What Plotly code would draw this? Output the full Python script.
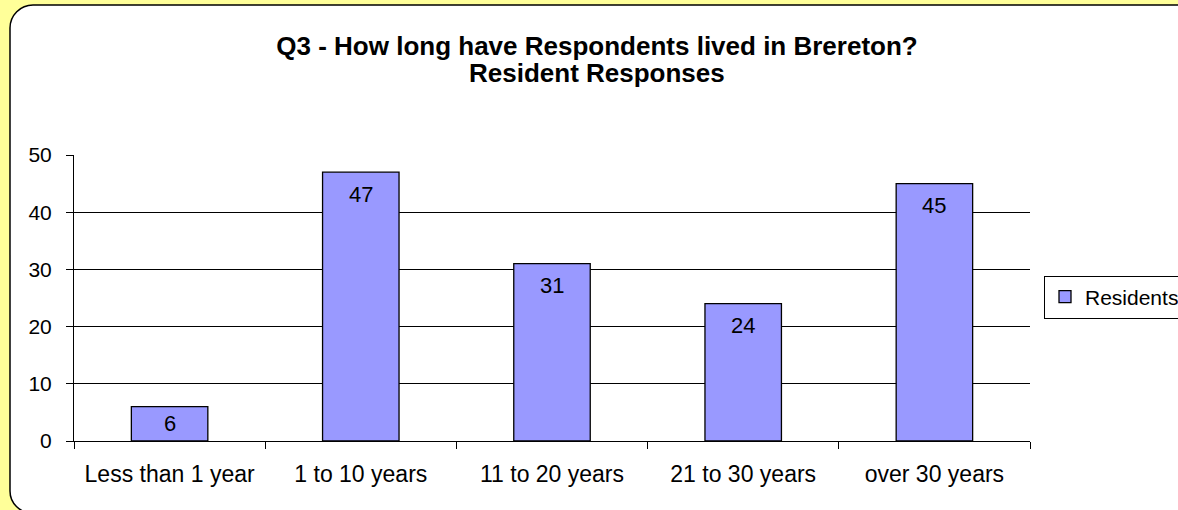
import plotly.graph_objects as go

categories = ["Less than 1 year", "1 to 10 years", "11 to 20 years", "21 to 30 years", "over 30 years"]
residents = [6, 47, 31, 24, 45]
series_name = "Residents"
title_line1 = "Q3 - How long have Respondents lived in Brereton?"
title_line2 = "Resident Responses"
y_ticks = [0, 10, 20, 30, 40, 50]

W, H = 1178, 510
L, R, T, B = 74, 148, 155, 69
PW, PH = W - L - R, H - T - B
FONT = "Liberation Sans, Arial, sans-serif"


def px(x):
    return (x - L) / PW


def py(y):
    return (H - B - y) / PH


fig = go.Figure()
fig.add_trace(go.Bar(
    x=categories, y=residents, name=series_name,
    marker=dict(color="#9999FF", line=dict(color="#000000", width=1.3)),
    width=0.4, showlegend=True,
))

# data labels inside bar ends
for c, v in zip(categories, residents):
    fig.add_annotation(x=c, y=max(v - 3.85, v / 2), text=str(v), showarrow=False,
                       xref="x", yref="y", yanchor="middle",
                       font=dict(family=FONT, size=22, color="#000"))

# white rounded panel
k = 0.552
r1, r2 = 23, 22
x0, y0, x1, y1 = 10, 5, 1200, 513
path = (
    f"M {px(x0)},{py(y0 + r1)} "
    f"C {px(x0)},{py(y0 + r1 * (1 - k))} {px(x0 + r1 * (1 - k))},{py(y0)} {px(x0 + r1)},{py(y0)} "
    f"L {px(x1)},{py(y0)} L {px(x1)},{py(y1)} L {px(x0 + r2)},{py(y1)} "
    f"C {px(x0 + r2 * (1 - k))},{py(y1)} {px(x0)},{py(y1 - r2 * (1 - k))} {px(x0)},{py(y1 - r2)} Z"
)
fig.add_shape(type="path", path=path, xref="paper", yref="paper", layer="below",
              fillcolor="#FFFFFF", line=dict(color="#000000", width=1.5))

fig.add_annotation(text=f"<b>{title_line2}</b>", x=px(597), y=py(73), xref="paper", yref="paper",
                   showarrow=False, xanchor="center", yanchor="middle",
                   font=dict(family=FONT, size=26, color="#000"))

fig.update_layout(
    width=W, height=H,
    margin=dict(l=L, r=R, t=T, b=B, autoexpand=False),
    paper_bgcolor="#FFFF99", plot_bgcolor="rgba(0,0,0,0)",
    title=dict(text=f"<b>{title_line1}</b>", x=597 / W, y=1 - 45.5 / H, xref="container", yref="container",
               xanchor="center", yanchor="middle", font=dict(family=FONT, size=26, color="#000")),
    font=dict(family=FONT, color="#000"),
    showlegend=True,
    legend=dict(x=px(1044), y=py(297), xanchor="left", yanchor="middle", xref="paper", yref="paper",
                bordercolor="#000", borderwidth=1, bgcolor="#FFFFFF", itemwidth=30,
                font=dict(family=FONT, size=21, color="#000")),
    bargap=0.6,
)
fig.update_yaxes(range=[0, 50], tickvals=y_ticks, showgrid=True, gridcolor="#000", gridwidth=1,
                 showline=True, linecolor="#000", linewidth=1, ticks="outside", ticklen=7,
                 tickcolor="#000", ticklabelstandoff=10, tickfont=dict(family=FONT, size=21, color="#000"),
                 zeroline=False, fixedrange=True)
fig.update_xaxes(showline=True, linecolor="#000", linewidth=1, ticks="outside", ticklen=7,
                 tickcolor="#000", tickson="boundaries", ticklabelstandoff=12,
                 tickfont=dict(family=FONT, size=23, color="#000"), showgrid=False, fixedrange=True)

fig.write_html("out.html", config={"displayModeBar": False},
               post_script="document.body.style.margin='0';document.body.style.overflow='hidden';")
